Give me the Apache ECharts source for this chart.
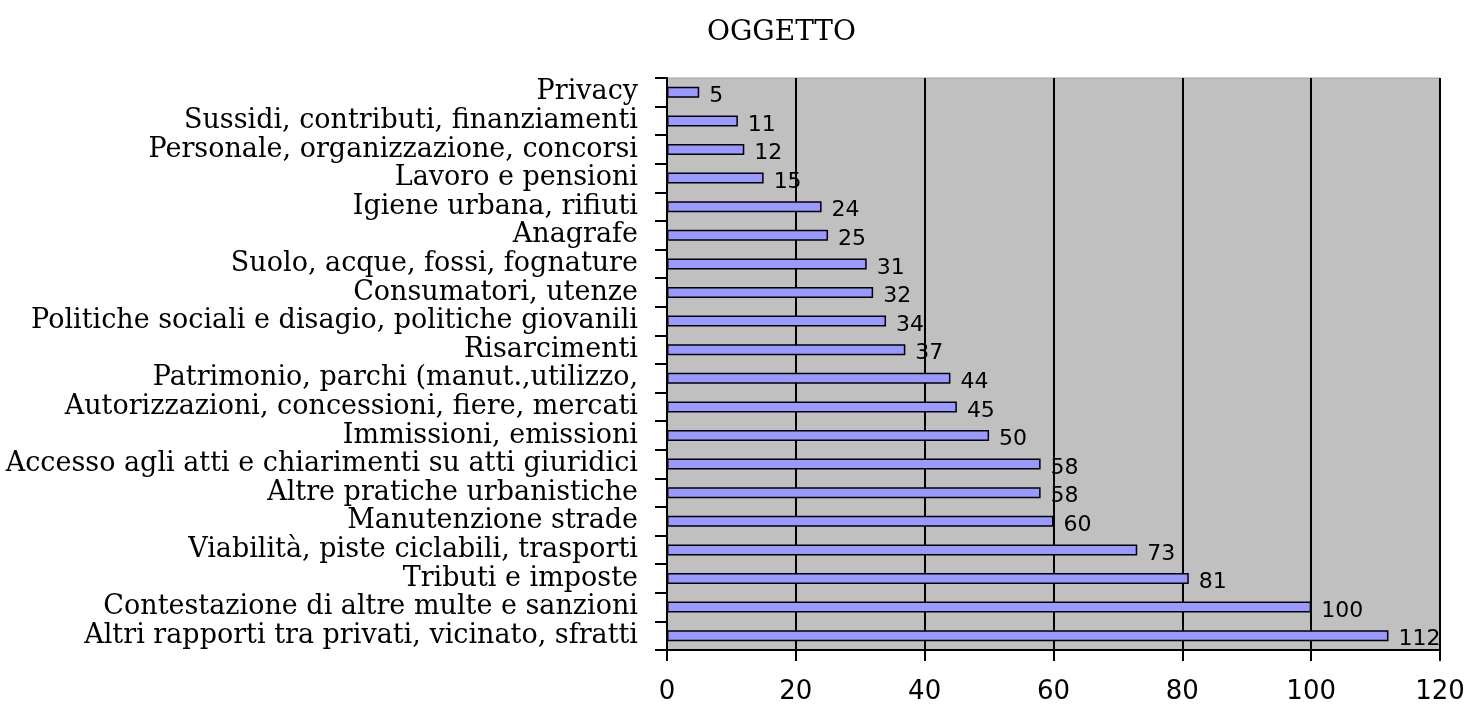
<!DOCTYPE html>
<html>
<head>
<meta charset="utf-8">
<script src="https://cdn.jsdelivr.net/npm/echarts@6/dist/echarts.min.js"></script>
<style>
  html, body { margin: 0; padding: 0; background: #fff; }
  #chart { width: 1468px; height: 711px; }
</style>
</head>
<body>
<div id="chart"></div>
<script>
// top to bottom, as in the picture
const categories = [
  'Privacy',
  'Sussidi, contributi, finanziamenti',
  'Personale, organizzazione, concorsi',
  'Lavoro e pensioni',
  'Igiene urbana, rifiuti',
  'Anagrafe',
  'Suolo, acque, fossi, fognature',
  'Consumatori, utenze',
  'Politiche sociali e disagio, politiche giovanili',
  'Risarcimenti',
  'Patrimonio, parchi (manut.,utilizzo,',
  'Autorizzazioni, concessioni, fiere, mercati',
  'Immissioni, emissioni',
  'Accesso agli atti e chiarimenti su atti giuridici',
  'Altre pratiche urbanistiche',
  'Manutenzione strade',
  'Viabilità, piste ciclabili, trasporti',
  'Tributi e imposte',
  'Contestazione di altre multe e sanzioni',
  'Altri rapporti tra privati, vicinato, sfratti'
]
const values = [5, 11, 12, 15, 24, 25, 31, 32, 34, 37, 44, 45, 50, 58, 58, 60, 73, 81, 100, 112]
const xTicks = [0, 20, 40, 60, 80, 100, 120]

const chart = echarts.init(document.getElementById('chart'))
chart.setOption({
  animation: false,
  title: {
    text: 'OGGETTO',
    left: 702,
    top: 14,
    textStyle: { fontFamily: 'DejaVu Serif', fontSize: 28, fontWeight: 'normal', color: '#000' }
  },
  grid: {
    left: 667, right: 28, top: 78, bottom: 61,
    show: true,
    backgroundColor: '#c0c0c0',
    borderColor: '#a0a0a0',
    borderWidth: 1
  },
  xAxis: {
    type: 'value',
    min: xTicks[0],
    max: xTicks[xTicks.length - 1],
    interval: 20,
    axisLine: { show: true, lineStyle: { color: '#000', width: 2 } },
    axisTick: { show: true, length: 11, lineStyle: { color: '#000', width: 2 } },
    splitLine: { show: true, lineStyle: { color: '#000', width: 2 } },
    axisLabel: {
      margin: 29,
      fontFamily: 'DejaVu Sans',
      fontSize: 26,
      color: '#000'
    }
  },
  yAxis: {
    type: 'category',
    data: categories,
    inverse: true,
    axisLine: { show: true, lineStyle: { color: '#000', width: 2 } },
    axisTick: { show: true, length: 12, interval: 0, lineStyle: { color: '#000', width: 2 } },
    axisLabel: {
      interval: 0,
      hideOverlap: false,
      margin: 29,
      fontFamily: 'DejaVu Serif',
      fontSize: 27,
      color: '#000'
    }
  },
  series: [{
    type: 'bar',
    data: values,
    barWidth: 11,
    itemStyle: { color: '#9999ff', borderColor: '#000', borderWidth: 1.5 },
    label: {
      show: true,
      position: 'right',
      distance: 10,
      offset: [0, 4],
      fontFamily: 'DejaVu Sans',
      fontSize: 22,
      color: '#000'
    }
  }]
})
</script>
</body>
</html>
